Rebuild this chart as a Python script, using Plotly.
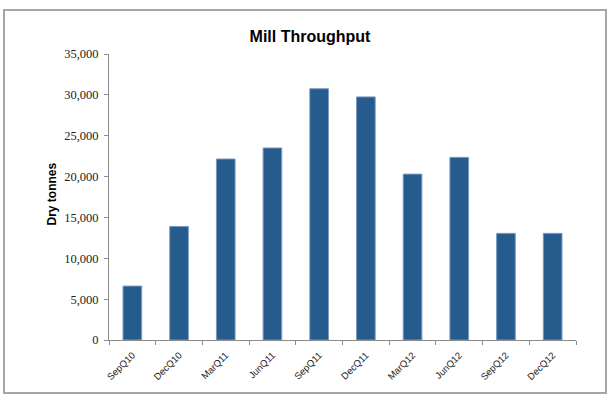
import plotly.graph_objects as go

quarters = ["SepQ10", "DecQ10", "MarQ11", "JunQ11", "SepQ11",
            "DecQ11", "MarQ12", "JunQ12", "SepQ12", "DecQ12"]
dry_tonnes = [6600, 13900, 22150, 23500, 30750, 29750, 20300, 22350, 13050, 13050]
y_ticks = [0, 5000, 10000, 15000, 20000, 25000, 30000, 35000]

W, H = 609, 394
ml, mr, mt, mb = 109, 33, 54, 54
pw = W - ml - mr
ph = H - mt - mb

fig = go.Figure()
fig.add_trace(go.Bar(
    x=quarters, y=dry_tonnes,
    marker=dict(color="#265B8E", line=dict(color="#7B9CC0", width=1)),
    showlegend=False,
))

def px_to_paper_x(px):
    return (px - ml) / pw

def px_to_paper_y(py):
    return (H - mb - py) / ph

fig.update_layout(
    width=W, height=H,
    margin=dict(l=ml, r=mr, t=mt, b=mb),
    paper_bgcolor="white", plot_bgcolor="white",
    bargap=0.6,
    title=dict(text="<b>Mill Throughput</b>", x=310 / W, xref="container", xanchor="center",
               y=1 - 36 / H, yref="container", yanchor="middle",
               font=dict(family="Liberation Sans", size=16, color="black")),
    xaxis=dict(showline=True, linecolor="#8c8c8c", linewidth=1,
               ticks="outside", tickson="boundaries", ticklen=4, tickcolor="#8c8c8c",
               tickangle=-45, showgrid=False, ticklabelstandoff=5,
               tickfont=dict(family="Liberation Sans", size=9.5, color="#222")),
    yaxis=dict(range=[0, 35000], tickvals=y_ticks, tickformat=",",
               showline=True, linecolor="#8c8c8c", linewidth=1,
               ticks="outside", ticklen=4, tickcolor="#8c8c8c",
               showgrid=False, zeroline=False, ticklabelstandoff=3,
               tickfont=dict(family="Liberation Serif", size=12.5, color="#222")),
    annotations=[dict(text="<b>Dry tonnes</b>", textangle=-90,
                      x=px_to_paper_x(51.5), y=px_to_paper_y(194), xref="paper", yref="paper",
                      xanchor="center", yanchor="middle", showarrow=False,
                      font=dict(family="Liberation Sans", size=12, color="black"))],
    shapes=[dict(type="rect", xref="paper", yref="paper",
                 x0=px_to_paper_x(4), x1=px_to_paper_x(606),
                 y0=px_to_paper_y(393), y1=px_to_paper_y(10),
                 line=dict(color="#a6a6a6", width=2), layer="below")],
)

fig.write_html("out.html")
